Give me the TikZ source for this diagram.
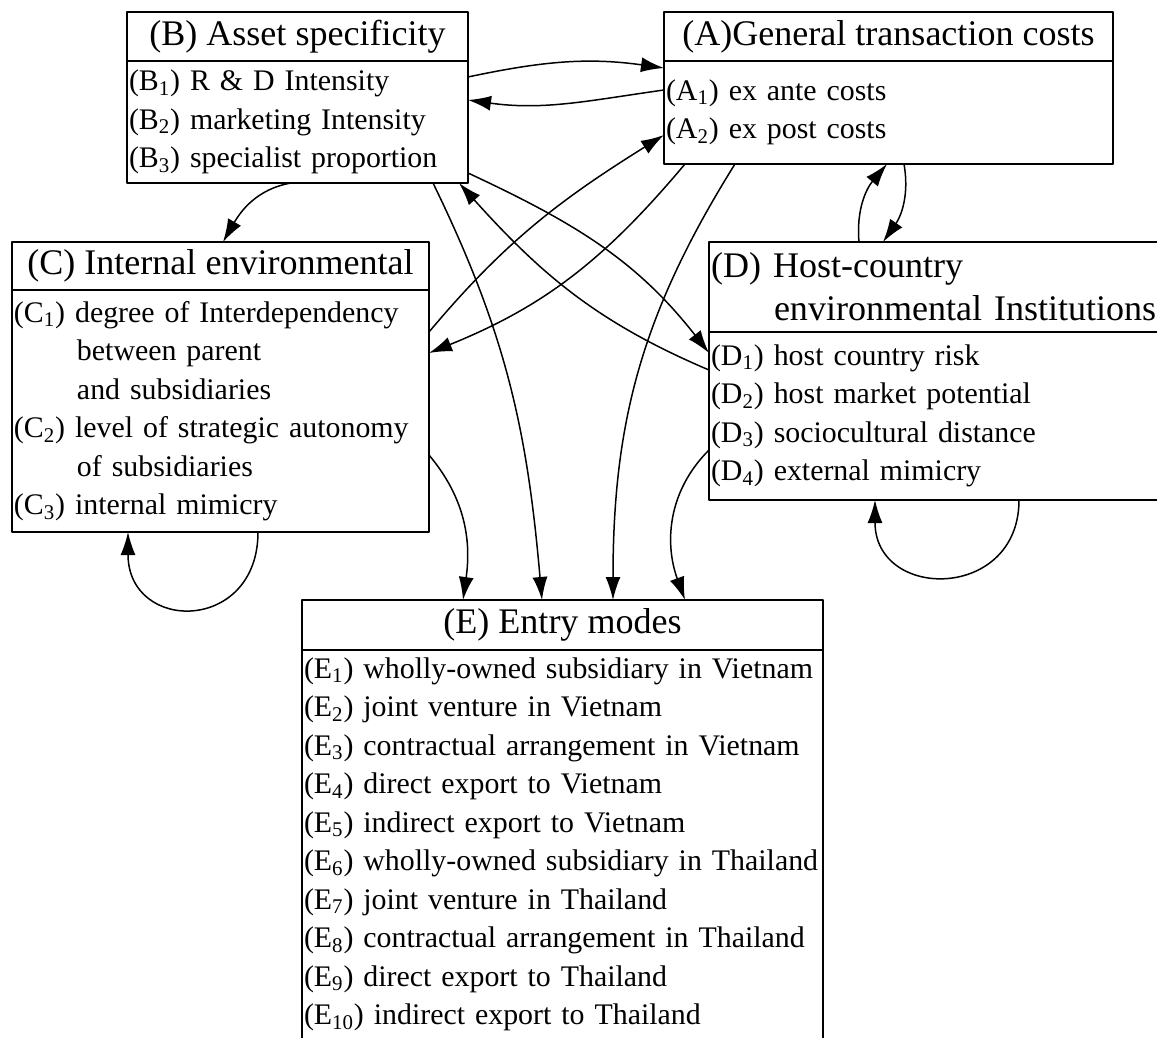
\documentclass[tikz,border=0pt]{standalone}
\usepackage{fontspec}
\setmainfont{Liberation Serif}
\usetikzlibrary{positioning}
\usetikzlibrary{arrows.meta}

\newcommand{\hangin}{\hspace*{1.26cm}}

\begin{document}
\begin{tikzpicture}[line join=bevel,
  boxHead/.style={draw, line width=1.5pt, outer sep=0pt, inner xsep=0.04cm, inner ysep=0pt,
    font=\fontsize{20.5}{24.5}\selectfont},
  boxBody/.style={draw, line width=1.5pt, outer sep=0pt, inner xsep=0.04cm, inner ysep=0pt,
    align=left, font=\fontsize{17}{21.9}\selectfont},
  link/.style={-{Latex[length=0.46cm,width=0.3cm]}, line width=0.85pt}]
  \useasboundingbox (0,0) rectangle (23.14,-20.76);
  \clip (0,0) rectangle (23.14,-20.76);

  % the five boxes: a title cell over a list cell
  \node[boxHead, anchor=north west, minimum width=6.82cm, minimum height=0.98cm] (assetHead) at (2.54,-0.24) {(B) Asset specificity};
  \node[boxBody, below=0pt of assetHead, text width=6.74cm, minimum height=2.44cm] (asset)
    {(B\textsubscript{1}) R \& D Intensity\\(B\textsubscript{2}) marketing Intensity\\(B\textsubscript{3}) specialist proportion};

  \node[boxHead, anchor=north west, minimum width=8.98cm, minimum height=0.98cm] (costHead) at (13.28,-0.24) {(A)General transaction costs};
  \node[boxBody, below=0pt of costHead, text width=8.90cm, minimum height=2.06cm] (cost)
    {(A\textsubscript{1}) ex ante costs\\(A\textsubscript{2}) ex post costs};

  \node[boxHead, anchor=north west, minimum width=8.34cm, minimum height=0.96cm] (internHead) at (0.24,-4.84) {(C) Internal environmental};
  \node[boxBody, below=0pt of internHead, text width=8.26cm, minimum height=4.84cm] (intern)
    {(C\textsubscript{1}) degree of Interdependency\\\hangin between parent\\\hangin and subsidiaries\\
     (C\textsubscript{2}) level of strategic autonomy\\\hangin of subsidiaries\\(C\textsubscript{3}) internal mimicry};

  \node[boxHead, anchor=north west, align=left, text width=9.32cm, minimum height=1.80cm] (hostHead) at (14.18,-4.84)
    {(D) Host-country\\\hangin environmental Institutions};
  \node[boxBody, below=0pt of hostHead, text width=9.32cm, minimum height=3.36cm] (host)
    {(D\textsubscript{1}) host country risk\\(D\textsubscript{2}) host market potential\\(D\textsubscript{3}) sociocultural distance\\(D\textsubscript{4}) external mimicry};

  \node[boxHead, anchor=north west, minimum width=10.42cm, minimum height=1.0cm] (entryHead) at (6.04,-12.0) {(E) Entry modes};
  \node[boxBody, below=0pt of entryHead, text width=10.34cm, inner ysep=0.15cm, text depth=8.2cm] (entry)
    {(E\textsubscript{1}) wholly-owned subsidiary in Vietnam\\(E\textsubscript{2}) joint venture in Vietnam\\
     (E\textsubscript{3}) contractual arrangement in Vietnam\\(E\textsubscript{4}) direct export to Vietnam\\
     (E\textsubscript{5}) indirect export to Vietnam\\(E\textsubscript{6}) wholly-owned subsidiary in Thailand\\
     (E\textsubscript{7}) joint venture in Thailand\\(E\textsubscript{8}) contractual arrangement in Thailand\\
     (E\textsubscript{9}) direct export to Thailand\\(E\textsubscript{10}) indirect export to Thailand};

  % links between the boxes
  \draw[link] ([yshift=-0.32cm]asset.north east) to[out=12, in=172] ([yshift=-0.14cm]cost.north west);
  \draw[link] ([yshift=-0.58cm]cost.north west) to[out=188, in=-8] ([yshift=-0.78cm]asset.north east);
  \draw[link] ([xshift=-0.13cm]asset.south) to[out=190, in=60] ([xshift=0.05cm]internHead.north);
  \draw[link] ([yshift=-0.84cm]intern.north east) to[out=50, in=212] ([yshift=-1.48cm]cost.north west);
  \draw[link] ([xshift=0.42cm]cost.south west) to[out=230, in=22] ([yshift=-1.26cm]intern.north east);
  \draw[link] ([xshift=-0.7cm]asset.south east) to[out=-64, in=95] ([xshift=4.8cm]entryHead.north west);
  \draw[link] ([yshift=0.2cm]asset.south east) to[out=-25, in=128] ([yshift=-0.42cm]host.north west);
  \draw[link] ([yshift=-0.76cm]host.north west) to[out=157, in=-48] ([xshift=-0.18cm]asset.south east);
  \draw[link] ([xshift=1.42cm]cost.south west) to[out=-122, in=90] ([xshift=6.22cm]entryHead.north west);
  \draw[link] ([xshift=3.0cm]hostHead.north west) to[out=95, in=-130] ([xshift=4.46cm]cost.south west);
  \draw[link] ([xshift=4.8cm]cost.south west) to[out=-80, in=55] ([xshift=3.48cm]hostHead.north west);
  \draw[link] ([yshift=-3.3cm]intern.north east) to[out=-50, in=82] ([xshift=3.22cm]entryHead.north west);
  \draw[link] ([yshift=-2.36cm]host.north west) to[out=225, in=110] ([xshift=7.66cm]entryHead.north west);
  % self loops
  \draw[link] ([xshift=4.92cm]intern.south west) to[out=-90, in=-90, looseness=2] ([xshift=2.32cm]intern.south west);
  \draw[link] ([xshift=6.2cm]host.south west) to[out=-90, in=-90, looseness=1.8] ([xshift=3.32cm]host.south west);
\end{tikzpicture}
\end{document}
